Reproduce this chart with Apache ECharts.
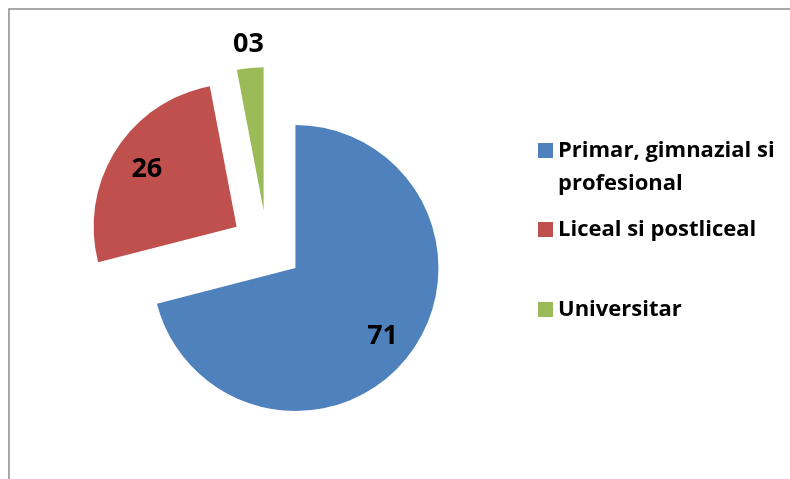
<!DOCTYPE html>
<html>
<head>
<meta charset="utf-8">
<script src="https://cdn.jsdelivr.net/npm/echarts@6/dist/echarts.min.js"></script>
<style>
  html, body { margin: 0; padding: 0; background: #fff; }
  #chart { width: 790px; height: 479px; }
</style>
</head>
<body>
<div id="chart"></div>
<script>
  let categories = ['Primar, gimnazial si profesional', 'Liceal si postliceal', 'Universitar'];
  let values = [71, 26, 3];
  let valueLabels = ['71', '26', '03'];
  let colors = ['#4F81BD', '#C0504D', '#9BBB59'];
  // where each value label sits along the slice radius (relative to the rim)
  let labelShift = [-32, -36, 24];

  let myChart = echarts.init(document.getElementById('chart'));

  let font = '"Open Sans", Lato, sans-serif';

  let legendBase = {
    orient: 'vertical',
    left: 538,
    padding: 0,
    icon: 'rect',
    itemWidth: 15,
    itemHeight: 15,
    selectedMode: false,
    textStyle: {
      color: '#000',
      fontFamily: font,
      fontWeight: 'bold',
      fontSize: 22,
      lineHeight: 33
    }
  };

  let option = {
    animation: false,
    backgroundColor: '#fff',
    graphic: [
      {
        type: 'rect',
        shape: { x: 9, y: 9, width: 800, height: 500 },
        style: { fill: 'none', stroke: '#8c8c8c', lineWidth: 1.5 },
        silent: true
      }
    ],
    legend: [
      Object.assign({}, legendBase, {
        top: 101,
        data: [categories[0]],
        // empty first line keeps the swatch level with the first text line
        formatter: function () { return ' \nPrimar, gimnazial si\nprofesional'; }
      }),
      Object.assign({}, legendBase, { top: 213, data: [categories[1]] }),
      Object.assign({}, legendBase, { top: 293, data: [categories[2]] })
    ],
    series: [
      {
        type: 'pie',
        center: [267, 246],
        radius: [0, 143],
        startAngle: 90,
        clockwise: true,
        selectedMode: 'multiple',
        selectedOffset: 36,
        avoidLabelOverlap: false,
        emphasis: { disabled: true },
        label: {
          show: true,
          position: 'outside',
          color: '#000',
          fontFamily: font,
          fontWeight: 'bold',
          fontSize: 27,
          distanceToLabelLine: -16,
          formatter: function (p) { return valueLabels[p.dataIndex]; }
        },
        labelLine: { show: false, length2: 0 },
        data: categories.map(function (name, i) {
          return {
            name: name,
            value: values[i],
            selected: true,
            itemStyle: { color: colors[i] },
            labelLine: { show: false, length: labelShift[i], length2: 0 }
          };
        })
      }
    ]
  };
  myChart.setOption(option);
</script>
</body>
</html>
